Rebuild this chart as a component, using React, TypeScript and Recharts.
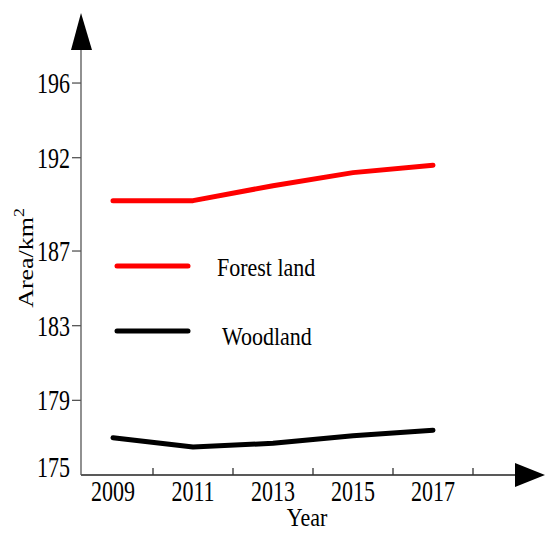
import React from "react";
import { Legend, Line, LineChart, XAxis, YAxis } from "recharts";

const years = [2009, 2011, 2013, 2015, 2017];
const forestLand = [189.7, 189.7, 190.5, 191.2, 191.6];
const woodland = [177.0, 176.5, 176.7, 177.1, 177.4];
const yTicks = [175, 179, 183, 187, 192, 196];
const xTicks = [2009, 2010, 2011, 2012, 2013, 2014, 2015, 2016, 2017, 2018];

const data = years.map((year, i) => ({
  year,
  forest: forestLand[i],
  wood: woodland[i],
}));

const FONT = "'Liberation Serif', 'Times New Roman', serif";

const YTick = (props: any) => {
  const { x, y, payload } = props;
  const v = payload.value;
  const base = v === 175 ? y + 2 : y + 10;
  return (
    <g>
      {v !== 175 && <line x1={x - 9} y1={y} x2={x} y2={y} stroke="#555" strokeWidth={1.3} />}
      <text
        transform={`translate(${x - 11},${base}) scale(1,1.3)`}
        textAnchor="end"
        fontFamily={FONT}
        fontSize={22}
        fill="#000"
      >
        {v}
      </text>
    </g>
  );
};

const XTick = (props: any) => {
  const { x, y, payload } = props;
  const v = payload.value;
  if (v % 2 === 0) {
    return <line x1={x} y1={y} x2={x} y2={y - 7} stroke="#333" strokeWidth={1.3} />;
  }
  return (
    <text
      transform={`translate(${x},${y + 26}) scale(1,1.3)`}
      textAnchor="middle"
      fontFamily={FONT}
      fontSize={22}
      fill="#000"
    >
      {v}
    </text>
  );
};

const LegendBox = () => (
  <svg width={230} height={110} style={{ overflow: "visible" }}>
    <line x1={12} y1={21} x2={83} y2={21} stroke="#ff0000" strokeWidth={5} strokeLinecap="round" />
    <text transform="translate(112,31) scale(1,1.15)" fontFamily={FONT} fontSize={22} fill="#000">
      Forest land
    </text>
    <line x1={12} y1={86} x2={83} y2={86} stroke="#000" strokeWidth={5} strokeLinecap="round" />
    <text transform="translate(117,100) scale(1,1.15)" fontFamily={FONT} fontSize={22} fill="#000">
      Woodland
    </text>
  </svg>
);

export default function App() {
  return (
    <div style={{ position: "absolute", left: 0, top: 0, width: 546, height: 533, background: "#fff" }}>
      <LineChart width={546} height={533} data={data} margin={{ top: 50, right: 31, bottom: 0, left: 20 }}>
        <XAxis
          dataKey="year"
          type="number"
          domain={[2008.2, 2019.05]}
          ticks={xTicks}
          interval={0}
          allowDataOverflow
          height={58}
          tickSize={0}
          tickMargin={0}
          tickLine={false}
          axisLine={{ stroke: "#222", strokeWidth: 1.5 }}
          tick={<XTick />}
        />
        <YAxis
          type="number"
          domain={[175, 197.77]}
          ticks={yTicks}
          interval={0}
          allowDataOverflow
          width={61}
          tickSize={0}
          tickMargin={0}
          tickLine={false}
          axisLine={{ stroke: "#555", strokeWidth: 1.3 }}
          tick={<YTick />}
        />
        <Legend
          layout="vertical"
          align="center"
          verticalAlign="middle"
          content={<LegendBox />}
          wrapperStyle={{ position: "absolute", left: 105, top: 245, width: 230, height: 110 }}
        />
        <Line
          dataKey="forest"
          name="Forest land"
          stroke="#ff0000"
          strokeWidth={5}
          strokeLinecap="round"
          strokeLinejoin="round"
          dot={false}
          isAnimationActive={false}
        />
        <Line
          dataKey="wood"
          name="Woodland"
          stroke="#000"
          strokeWidth={5}
          strokeLinecap="round"
          strokeLinejoin="round"
          dot={false}
          isAnimationActive={false}
        />
      </LineChart>
      <svg
        width={546}
        height={533}
        style={{ position: "absolute", left: 0, top: 0, pointerEvents: "none" }}
      >
        <polygon points="81,13 71,50 92,50" fill="#000" />
        <polygon points="545,475 515,463 515,487" fill="#000" />
        <text
          transform="translate(307,526) scale(1,1.15)"
          textAnchor="middle"
          fontFamily={FONT}
          fontSize={22}
          fill="#000"
        >
          Year
        </text>
        <text
          transform="translate(33,258) scale(1,1.18) rotate(-90)"
          textAnchor="middle"
          fontFamily={FONT}
          fontSize={22}
          fill="#000"
        >
          Area/km
          <tspan dy={-9} fontSize={15}>
            2
          </tspan>
        </text>
      </svg>
    </div>
  );
}
